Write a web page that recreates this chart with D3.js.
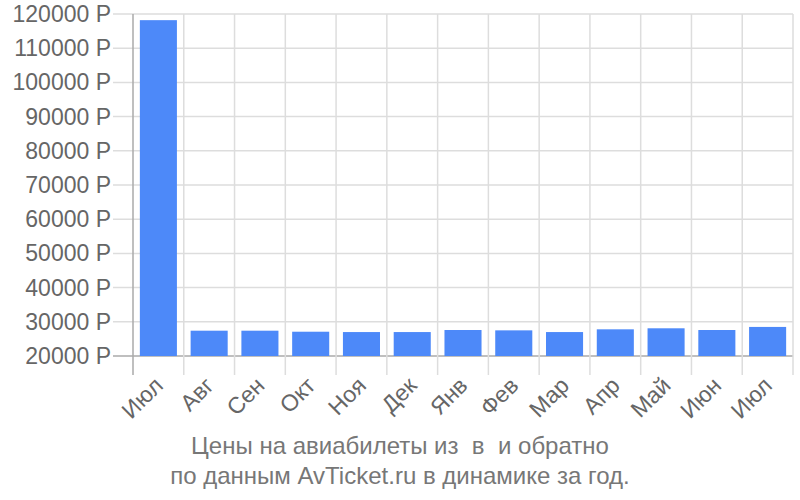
<!DOCTYPE html>
<html>
<head>
<meta charset="utf-8">
<script src="https://cdn.jsdelivr.net/npm/d3@7"></script>
<style>
  body { margin: 0; background: #fff; }
  text { font-family: "Liberation Sans", Arial, sans-serif; }
</style>
</head>
<body>
<svg id="chart" width="800" height="500"></svg>
<script>
var months = ["Июл", "Авг", "Сен", "Окт", "Ноя", "Дек", "Янв", "Фев", "Мар", "Апр", "Май", "Июн", "Июл"];
var prices = [118200, 27400, 27400, 27100, 27000, 27000, 27600, 27500, 27000, 27800, 28100, 27600, 28500];
var yTicks = [20000, 30000, 40000, 50000, 60000, 70000, 80000, 90000, 100000, 110000, 120000];
var titleLines = ["Цены на авиабилеты из  в  и обратно", "по данным AvTicket.ru в динамике за год."];

var svg = d3.select("#chart");
// note: "top" clashes with window.top, so plot edges get a prefix
var plotLeft = 133, plotRight = 793, plotTop = 14, plotBottom = 356;

// keys are indices because "Июл" shows up twice
var x = d3.scaleBand()
    .domain(d3.range(months.length))
    .range([plotLeft, plotRight])
    .paddingInner(0.27)
    .paddingOuter(0.135);

var y = d3.scaleLinear()
    .domain([20000, 120000])
    .range([plotBottom, plotTop]);

var step = (plotRight - plotLeft) / months.length;

// horizontal grid + left ticks
svg.append("g").selectAll("line")
    .data(yTicks)
    .join("line")
    .attr("x1", plotLeft - 20)
    .attr("x2", plotRight)
    .attr("y1", function (d) { return y(d); })
    .attr("y2", function (d) { return y(d); })
    .attr("stroke", function (d) { return d == 20000 ? "#aaa" : "#ddd"; })
    .attr("stroke-width", 1.5);

// vertical grid lines at band edges
svg.append("g").selectAll("line")
    .data(d3.range(months.length + 1))
    .join("line")
    .attr("x1", function (i) { return plotLeft + i * step; })
    .attr("x2", function (i) { return plotLeft + i * step; })
    .attr("y1", plotTop)
    .attr("y2", plotBottom + 19)
    .attr("stroke", function (i) { return i == 0 ? "#aaa" : "#ddd"; })
    .attr("stroke-width", 1.5);

// y labels
svg.append("g").selectAll("text")
    .data(yTicks)
    .join("text")
    .attr("x", plotLeft - 22)
    .attr("y", function (d) { return y(d); })
    .attr("dy", "0.35em")
    .attr("text-anchor", "end")
    .attr("font-size", "23px")
    .attr("fill", "#666")
    .text(function (d) { return d + " Р"; });

// bars
svg.append("g").selectAll("rect")
    .data(prices)
    .join("rect")
    .attr("x", function (d, i) { return x(i); })
    .attr("y", function (d) { return y(d); })
    .attr("width", x.bandwidth())
    .attr("height", function (d) { return y(20000) - y(d); })
    .attr("fill", "#4d89f9");

// x labels, rotated
svg.append("g").selectAll("text")
    .data(months)
    .join("text")
    .attr("transform", function (d, i) {
        return "translate(" + (x(i) + x.bandwidth() / 2 + 6) + "," + (plotBottom + 31) + ") rotate(-45)";
    })
    .attr("text-anchor", "end")
    .attr("font-size", "23px")
    .attr("fill", "#666")
    .text(function (d) { return d; });

// title
svg.append("g").selectAll("text")
    .data(titleLines)
    .join("text")
    .attr("x", 400)
    .attr("y", function (d, i) { return 454 + i * 30; })
    .attr("text-anchor", "middle")
    .attr("font-size", "24px")
    .attr("fill", "#777")
    .style("white-space", "pre")
    .text(function (d) { return d; });
</script>
</body>
</html>
